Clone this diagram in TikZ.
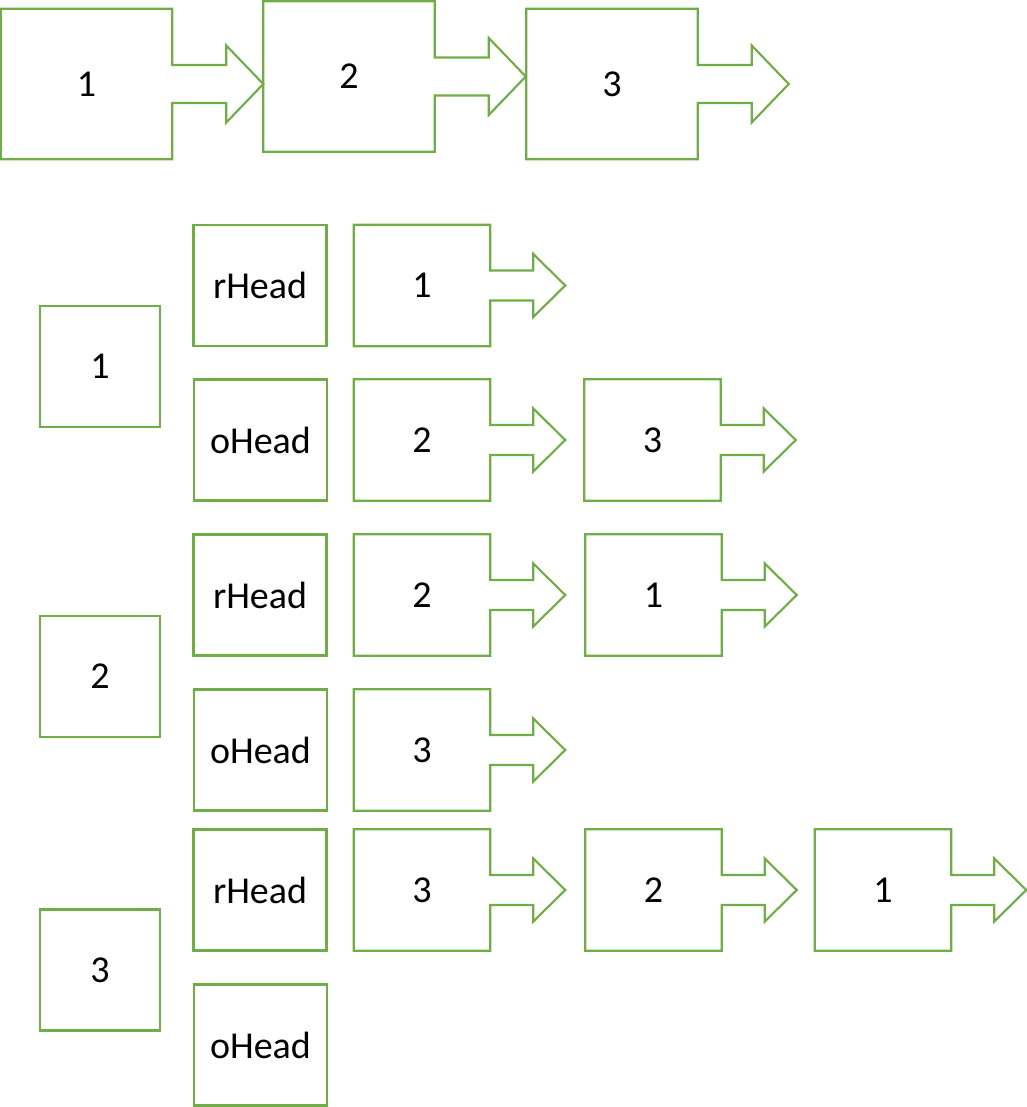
\documentclass[tikz,border=0pt]{standalone}
\usepackage{fontspec}
\setmainfont{Carlito}
\usetikzlibrary{calc}
\definecolor{ogreen}{HTML}{70AD47}
\tikzset{
  outline/.style={draw=ogreen, line width=1.6pt, line join=miter},
  boxtxt/.style={inner sep=0pt, font=\fontsize{28.5}{34}\selectfont, text=black},
  plainbox/.style={boxtxt, outline},
}
% small box with arrow: name, cx, cy, label
\newcommand\smallarr[4]{%
  \node[boxtxt, minimum width=136*0.75pt, minimum height=121*0.75pt] (#1) at (#2,#3) {#4};
  \draw[outline] ($(#1.east)+(0,-15)$) -- (#1.north east) -- (#1.north west) -- (#1.south west) -- (#1.south east)
     -- ($(#1.east)+(0,15)$) -- ($(#1.east)+(43,15)$) -- ($(#1.east)+(43,31.5)$) -- ($(#1.east)+(75,0)$)
     -- ($(#1.east)+(43,-31.5)$) -- ($(#1.east)+(43,-15)$) -- cycle;
}
% big box with arrow: name, cx, cy, label
\newcommand\bigarr[4]{%
  \node[boxtxt, minimum width=171*0.75pt, minimum height=150*0.75pt] (#1) at (#2,#3) {#4};
  \draw[outline] ($(#1.east)+(0,-19)$) -- (#1.north east) -- (#1.north west) -- (#1.south west) -- (#1.south east)
     -- ($(#1.east)+(0,19)$) -- ($(#1.east)+(54,19)$) -- ($(#1.east)+(54,38.5)$) -- ($(#1.east)+(91,0)$)
     -- ($(#1.east)+(54,-38.5)$) -- ($(#1.east)+(54,-19)$) -- cycle;
}
\begin{document}
\begin{tikzpicture}[x=0.75pt,y=-0.75pt]
\useasboundingbox (0,0) rectangle (1027,1107);
% top row
\bigarr{t1}{86.5}{84}{1}
\bigarr{t2}{349}{76.5}{2}
\bigarr{t3}{612}{84}{3}
% left boxes
\node[plainbox, minimum width=120*0.75pt, minimum height=121*0.75pt] (v1) at (100,366.5) {1};
\node[plainbox, minimum width=120*0.75pt, minimum height=121*0.75pt] (v2) at (100,676.5) {2};
\node[plainbox, minimum width=120*0.75pt, minimum height=121*0.75pt] (v3) at (100,970) {3};
% head boxes
\node[plainbox, minimum width=133*0.75pt, minimum height=121*0.75pt] (r1) at (260,285.5) {rHead};
\node[plainbox, minimum width=133*0.75pt, minimum height=121*0.75pt] (o1) at (260.5,440) {oHead};
\node[plainbox, minimum width=133*0.75pt, minimum height=121*0.75pt] (r2) at (260,595) {rHead};
\node[plainbox, minimum width=133*0.75pt, minimum height=121*0.75pt] (o2) at (260.5,750) {oHead};
\node[plainbox, minimum width=133*0.75pt, minimum height=121*0.75pt] (r3) at (260,890) {rHead};
\node[plainbox, minimum width=133*0.75pt, minimum height=121*0.75pt] (o3) at (260.5,1045) {oHead};
% lists
\smallarr{a1}{422}{285.5}{1}
\smallarr{b1}{422}{440}{2}
\smallarr{b2}{652.5}{440}{3}
\smallarr{c1}{422}{595}{2}
\smallarr{c2}{653.5}{595}{1}
\smallarr{d1}{422}{750}{3}
\smallarr{e1}{422}{890}{3}
\smallarr{e2}{653.5}{890}{2}
\smallarr{e3}{883}{890}{1}
\end{tikzpicture}
\end{document}
